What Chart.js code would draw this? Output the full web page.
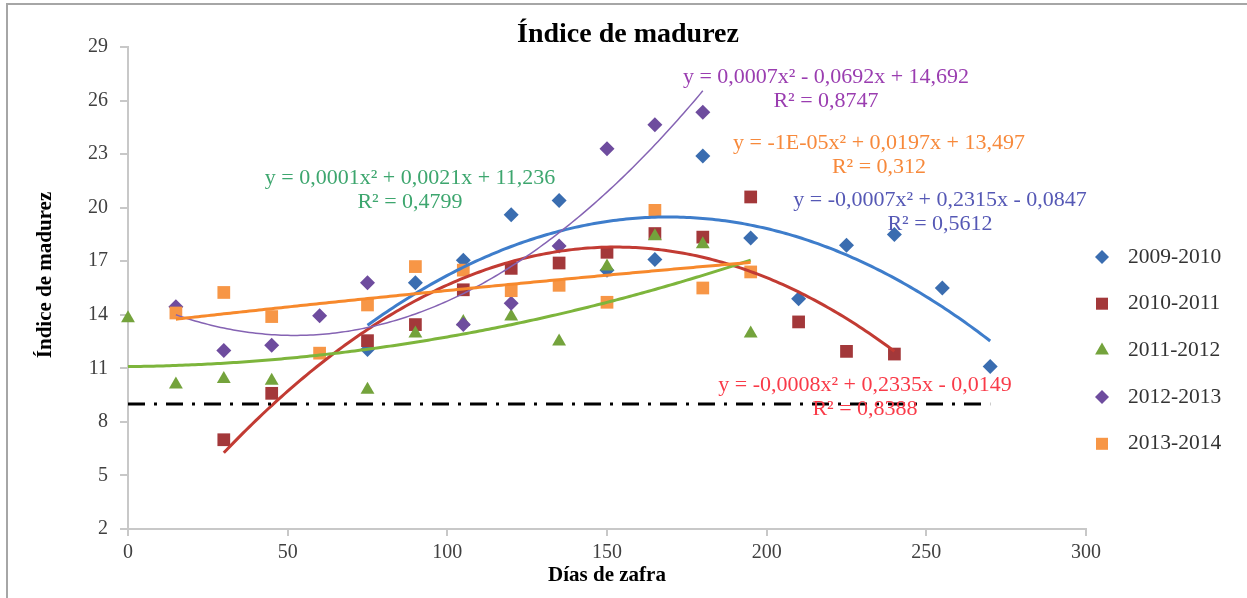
<!DOCTYPE html>
<html>
<head>
<meta charset="utf-8">
<script src="https://cdn.jsdelivr.net/npm/chart.js@4.4.0/dist/chart.umd.min.js"></script>
<style>
    html, body { margin: 0; padding: 0; background: #fff; }
    #wrap { position: relative; width: 1247px; height: 598px; overflow: hidden; }
    #frame { position: absolute; left: 6px; top: 3px; width: 1260px; height: 610px;
             border-left: 2px solid #a6a6a6; border-top: 2px solid #a6a6a6; pointer-events: none; }
</style>
</head>
<body>
<div id="wrap">
    <canvas id="maturityChart" width="1247" height="598"></canvas>
    <div id="frame"></div>
</div>
<script>
// Días de zafra / Índice de madurez, one pair of arrays per harvest
const seasons = ['2009-2010', '2010-2011', '2011-2012', '2012-2013', '2013-2014'];

const days2009 = [75, 90, 105, 120, 135, 150, 165, 180, 195, 210, 225, 240, 255, 270];
const index2009 = [12.05, 15.8, 17.05, 19.6, 20.4, 16.5, 17.1, 22.9, 18.3, 14.9, 17.9, 18.5, 15.5, 11.1];

const days2010 = [30, 45, 75, 90, 105, 120, 135, 150, 165, 180, 195, 210, 225, 240];
const index2010 = [7.0, 9.6, 12.55, 13.45, 15.4, 16.6, 16.9, 17.5, 18.55, 18.35, 20.6, 13.6, 11.95, 11.8];

const days2011 = [0, 15, 30, 45, 75, 90, 105, 120, 135, 150, 165, 180, 195];
const index2011 = [13.8, 10.1, 10.4, 10.3, 9.8, 12.95, 13.6, 13.9, 12.5, 16.7, 18.4, 17.95, 12.95];

const days2012 = [15, 30, 45, 60, 75, 105, 120, 135, 150, 165, 180];
const index2012 = [14.45, 12.0, 12.3, 13.95, 15.8, 13.45, 14.65, 17.85, 23.3, 24.65, 25.35];

const days2013 = [15, 30, 45, 60, 75, 90, 105, 120, 135, 150, 165, 180, 195];
const index2013 = [14.1, 15.25, 13.9, 11.85, 14.55, 16.7, 16.5, 15.35, 15.65, 14.7, 19.85, 15.5, 16.4];

// trendline labels as shown in the chart
const equations = [
    'y = -0,0007x² + 0,2315x - 0,0847',
    'y = -0,0008x² + 0,2335x - 0,0149',
    'y = 0,0001x² + 0,0021x + 11,236',
    'y = 0,0007x² - 0,0692x + 14,692',
    'y = -1E-05x² + 0,0197x + 13,497'
];
const rSquared = ['R² = 0,5612', 'R² = 0,8388', 'R² = 0,4799', 'R² = 0,8747', 'R² = 0,312'];

// reference line (dash-dot)
const refDays = [0, 270];
const refIndex = 9;

const xTicks = { min: 0, max: 300, step: 50 };
const yTicks = { min: 2, max: 29, step: 3 };

const markerColors = ['#3A6DB0', '#A3383A', '#74A33C', '#6E4C9E', '#F79646'];
const lineColors = ['#3E7DCB', '#C23B33', '#7DB53C', '#8563B3', '#F7892C'];
const labelColors = ['#5558B5', '#F93A48', '#3DA66E', '#9A3DB0', '#F7893B'];
const pointStyles = ['rectRot', 'rect', 'triangle', 'rectRot', 'rect'];
const pointSizes = [7.5, 9, 8, 7.5, 9];
const lineWidths = [3, 3, 3, 1.5, 3];

const serif = '"Liberation Serif", "Times New Roman", serif';

// least squares polynomial of order 2, like the Excel trendline
function quadFit(xs, ys) {
    const s = [0, 0, 0, 0, 0];
    const t = [0, 0, 0];
    xs.forEach(function (x, i) {
        for (let k = 0; k < 5; k++) s[k] += Math.pow(x, k);
        for (let k = 0; k < 3; k++) t[k] += ys[i] * Math.pow(x, k);
    });
    const m = [
        [s[0], s[1], s[2], t[0]],
        [s[1], s[2], s[3], t[1]],
        [s[2], s[3], s[4], t[2]]
    ];
    for (let i = 0; i < 3; i++) {
        for (let j = i + 1; j < 3; j++) {
            const f = m[j][i] / m[i][i];
            for (let k = i; k < 4; k++) m[j][k] -= f * m[i][k];
        }
    }
    const r = [0, 0, 0];
    for (let i = 2; i >= 0; i--) {
        let v = m[i][3];
        for (let k = i + 1; k < 3; k++) v -= m[i][k] * r[k];
        r[i] = v / m[i][i];
    }
    return r; // c, b, a
}

function trendPoints(xs, ys) {
    const c = quadFit(xs, ys);
    const lo = Math.min.apply(null, xs);
    const hi = Math.max.apply(null, xs);
    const pts = [];
    for (let x = lo; x <= hi; x += 1) {
        pts.push({ x: x, y: c[0] + c[1] * x + c[2] * x * x });
    }
    return pts;
}

function toPoints(xs, ys) {
    return xs.map(function (x, i) { return { x: x, y: ys[i] }; });
}

const allDays = [days2009, days2010, days2011, days2012, days2013];
const allIndex = [index2009, index2010, index2011, index2012, index2013];

const datasets = [];
seasons.forEach(function (name, i) {
    datasets.push({
        label: name,
        data: toPoints(allDays[i], allIndex[i]),
        pointStyle: pointStyles[i],
        pointRadius: pointSizes[i],
        pointHoverRadius: pointSizes[i],
        backgroundColor: markerColors[i],
        borderColor: markerColors[i],
        borderWidth: 0,
        showLine: false,
        clip: false,
        order: 20 - i
    });
});
seasons.forEach(function (name, i) {
    datasets.push({
        label: 'trend ' + name,
        data: trendPoints(allDays[i], allIndex[i]),
        showLine: true,
        pointRadius: 0,
        borderColor: lineColors[i],
        borderWidth: lineWidths[i],
        tension: 0,
        clip: false,
        order: 10 - i
    });
});
datasets.push({
    label: 'referencia',
    data: refDays.map(function (d) { return { x: d, y: refIndex }; }),
    showLine: true,
    pointRadius: 0,
    borderColor: '#000',
    borderWidth: 3,
    borderDash: [17, 9, 3, 9],
    clip: false,
    order: 2
});

// title, axis title, equation boxes and legend drawn on the canvas
const annotations = {
    id: 'annotations',
    afterDraw: function (chart) {
        const ctx = chart.ctx;
        ctx.save();
        ctx.textBaseline = 'middle';
        ctx.textAlign = 'center';
        ctx.fillStyle = '#000';
        ctx.font = 'bold 28px ' + serif;
        ctx.fillText('Índice de madurez', 628, 35);

        ctx.save();
        ctx.translate(46, 275);
        ctx.rotate(-Math.PI / 2);
        ctx.font = 'bold 21px ' + serif;
        ctx.fillText('Índice de madurez', 0, 0);
        ctx.restore();

        const labelPos = [[940, 200], [865, 385], [410, 178], [826, 77], [879, 143]];
        ctx.font = '22px ' + serif;
        labelPos.forEach(function (p, i) {
            ctx.fillStyle = labelColors[i];
            ctx.fillText(equations[i], p[0], p[1]);
            ctx.fillText(rSquared[i], p[0], p[1] + 24);
        });

        ctx.textAlign = 'left';
        ctx.font = '21.5px ' + serif;
        const legendSizes = [7, 8.5, 8, 7, 8.5];
        seasons.forEach(function (name, i) {
            const y = 257 + i * 46.7;
            ctx.fillStyle = markerColors[i];
            ctx.strokeStyle = markerColors[i];
            Chart.helpers.drawPoint(ctx, {
                pointStyle: pointStyles[i], radius: legendSizes[i], borderWidth: 0, rotation: 0
            }, 1102, y);
            ctx.fillStyle = '#333';
            ctx.fillText(name, 1128, y);
        });
        ctx.restore();
    }
};

new Chart(document.getElementById('maturityChart'), {
    type: 'scatter',
    data: { datasets: datasets },
    options: {
        responsive: false,
        animation: false,
        events: [],
        layout: { padding: { top: 47, right: 161, left: 0, bottom: 0 } },
        plugins: {
            legend: { display: false },
            tooltip: { enabled: false }
        },
        scales: {
            x: {
                type: 'linear',
                min: xTicks.min,
                max: xTicks.max,
                afterFit: function (scale) { scale.height = 69; },
                ticks: {
                    stepSize: xTicks.step,
                    color: '#404040',
                    font: { family: serif, size: 20 },
                    padding: 5
                },
                grid: { drawOnChartArea: false, drawTicks: true, tickLength: 7, color: '#c8c8c8', lineWidth: 2 },
                border: { color: '#c8c8c8', width: 2 },
                title: {
                    display: true,
                    text: 'Días de zafra',
                    color: '#000',
                    font: { family: serif, size: 21, weight: 'bold' },
                    padding: { top: 0, bottom: 10 }
                }
            },
            y: {
                type: 'linear',
                min: yTicks.min,
                max: yTicks.max,
                afterFit: function (scale) { scale.width = 128; },
                ticks: {
                    stepSize: yTicks.step,
                    color: '#404040',
                    font: { family: serif, size: 20 },
                    padding: 12
                },
                grid: { drawOnChartArea: false, drawTicks: true, tickLength: 8, color: '#c8c8c8', lineWidth: 2 },
                border: { color: '#c8c8c8', width: 2 }
            }
        }
    },
    plugins: [annotations]
});
</script>
</body>
</html>
